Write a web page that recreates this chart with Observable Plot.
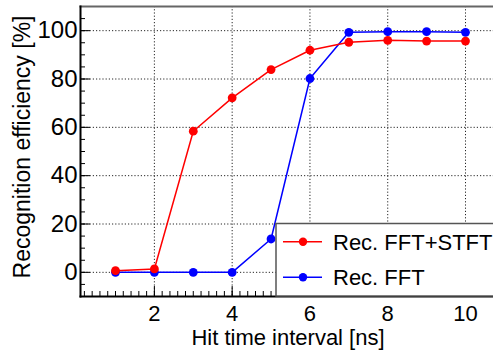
<!DOCTYPE html>
<html>
<head>
<meta charset="utf-8">
<script src="https://cdn.jsdelivr.net/npm/d3@7"></script>
<script src="https://cdn.jsdelivr.net/npm/@observablehq/plot@0.6"></script>
<style>
  html, body { margin: 0; padding: 0; background: #fff; overflow: hidden; }
  #chart { position: relative; width: 493px; height: 352px; overflow: hidden; }
  #chart > svg { position: absolute; left: 0; top: 0; max-width: none !important; }
</style>
</head>
<body>
<div id="chart"></div>
<script>
// Hit time interval [ns]
const interval = [1, 2, 3, 4, 5, 6, 7, 8, 9, 10];
// Recognition efficiency [%] per method
const effFftStft = [0.7, 1.4, 58.4, 72.2, 83.9, 91.9, 95.2, 96.0, 95.7, 95.7];
const effFft = [0.0, 0.0, 0.0, 0.0, 13.8, 80.2, 99.3, 99.6, 99.6, 99.3];
const seriesNames = ["Rec. FFT+STFT", "Rec. FFT"];
const seriesColors = ["#ff0000", "#0000ff"];
const xTicks = [2, 4, 6, 8, 10];
const yTicks = [0, 20, 40, 60, 80, 100];
const xTitle = "Hit time interval [ns]";
const yTitle = "Recognition efficiency [%]";

const font = "'Liberation Sans', Arial, Helvetica, sans-serif";
const xDomain = [0.1, 10.9];
const yDomain = [-10, 110];
const xMinor = d3.range(1, 55).map(i => i / 5);
const yMinor = d3.range(-10, 111, 5);

// Long-format table: FFT drawn first so FFT+STFT sits on top
const rows = [
  ...interval.map((x, i) => ({x, y: effFft[i], series: seriesNames[1]})),
  ...interval.map((x, i) => ({x, y: effFftStft[i], series: seriesNames[0]}))
];

const plot = Plot.plot({
  width: 510,
  height: 352,
  marginLeft: 80,
  marginRight: 10,
  marginTop: 6,
  marginBottom: 56,
  style: {fontFamily: font, background: "transparent", color: "#000", maxWidth: "none"},
  x: {domain: xDomain, label: null},
  y: {domain: yDomain, label: null},
  color: {domain: seriesNames, range: seriesColors},
  marks: [
    // dotted grid at major ticks
    Plot.gridX(xTicks, {stroke: "#000", strokeOpacity: 0.85, strokeDasharray: "1.2,2", strokeWidth: 1}),
    Plot.gridY(yTicks, {stroke: "#000", strokeOpacity: 0.85, strokeDasharray: "1.2,2", strokeWidth: 1}),
    // inward ticks
    Plot.axisX(xMinor, {tickSize: 5, dy: -5, fill: "none", strokeWidth: 1}),
    Plot.axisX(xTicks, {tickSize: 10, dy: -10, fill: "none", strokeWidth: 1}),
    Plot.axisY(yMinor, {tickSize: 5, dx: 5, fill: "none", strokeWidth: 1}),
    Plot.axisY(yTicks, {tickSize: 10, dx: 10, fill: "none", strokeWidth: 1}),
    // tick labels
    Plot.axisX(xTicks, {tickSize: 0, tickPadding: 9, fontSize: 22, label: null}),
    Plot.axisY(yTicks, {tickSize: 0, tickPadding: 3, fontSize: 24, label: null}),
    // frame: gray top, black left and bottom
    Plot.frame({anchor: "top", stroke: "#666", strokeWidth: 2}),
    Plot.frame({anchor: "left", stroke: "#000", strokeWidth: 2}),
    Plot.frame({anchor: "bottom", stroke: "#000", strokeWidth: 2}),
    // series
    Plot.line(rows, {x: "x", y: "y", z: "series", stroke: "series", strokeWidth: 1.5}),
    Plot.dot(rows, {x: "x", y: "y", fill: "series", r: 4.4, stroke: "none"})
  ]
});

const chart = d3.select("#chart");
chart.node().append(plot);

// Axis titles and legend overlay
const overlay = chart.append("svg")
  .attr("width", 493).attr("height", 352)
  .style("font-family", font);

overlay.append("text")
  .attr("x", 288).attr("y", 345)
  .attr("text-anchor", "middle")
  .attr("font-size", 22)
  .text(xTitle);

overlay.append("text")
  .attr("transform", "translate(30,147) rotate(-90)")
  .attr("text-anchor", "middle")
  .attr("font-size", 23)
  .text(yTitle);

const legend = overlay.append("g");
legend.append("rect")
  .attr("x", 276).attr("y", 223.5)
  .attr("width", 240).attr("height", 72.5)
  .attr("fill", "#fff").attr("stroke", "#555").attr("stroke-width", 1.5);

const entryY = [241.7, 277.3];
seriesNames.forEach((name, i) => {
  const g = legend.append("g");
  g.append("line")
    .attr("x1", 283).attr("x2", 322)
    .attr("y1", entryY[i]).attr("y2", entryY[i])
    .attr("stroke", seriesColors[i]).attr("stroke-width", 1.5);
  g.append("circle")
    .attr("cx", 303).attr("cy", entryY[i]).attr("r", 4.2)
    .attr("fill", seriesColors[i]);
  g.append("text")
    .attr("x", 333).attr("y", entryY[i])
    .attr("dy", "0.36em")
    .attr("font-size", 22)
    .text(name);
});
</script>
</body>
</html>
